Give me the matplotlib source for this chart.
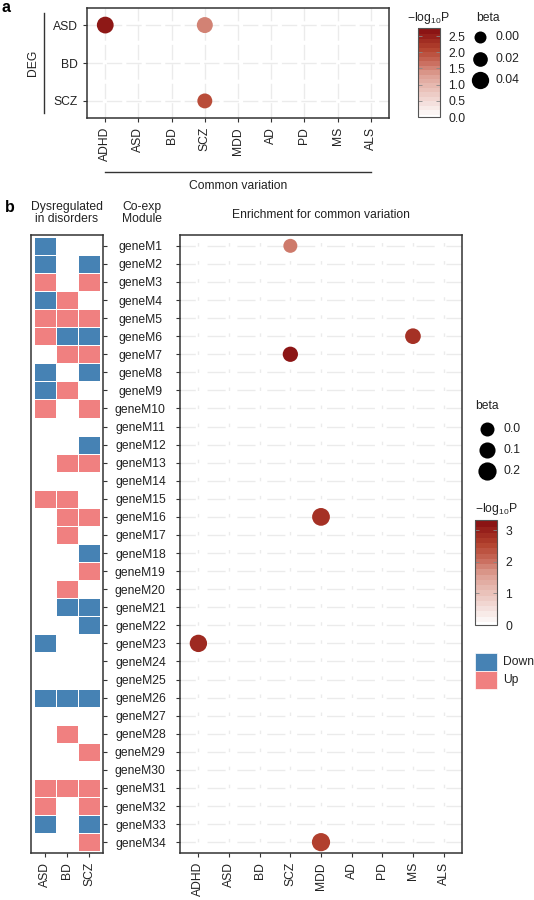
import numpy as np
import matplotlib
matplotlib.use('Agg')
import matplotlib.pyplot as plt
from matplotlib.colors import LinearSegmentedColormap, ListedColormap, Normalize, BoundaryNorm
from matplotlib.cm import ScalarMappable
from matplotlib.patches import Rectangle

plt.rcParams['font.family'] = ['Liberation Sans', 'DejaVu Sans']
plt.rcParams['mathtext.fontset'] = 'custom'
plt.rcParams['mathtext.rm'] = 'Liberation Sans'
plt.rcParams['mathtext.default'] = 'regular'

# ---------------- data ----------------
gwas = ['ADHD', 'ASD', 'BD', 'SCZ', 'MDD', 'AD', 'PD', 'MS', 'ALS']
deg = ['ASD', 'BD', 'SCZ']

# panel a : DEG sets vs common variation
a_deg = ['ASD', 'ASD', 'SCZ']
a_gwas = ['ADHD', 'SCZ', 'SCZ']
a_logp = [2.7, 1.6, 2.1]
a_beta = [0.036, 0.03, 0.022]
a_beta_breaks = [0.00, 0.02, 0.04]
a_beta_labels = ['0.00', '0.02', '0.04']
a_logp_ticks = [0.0, 0.5, 1.0, 1.5, 2.0, 2.5]
a_logp_max = 2.75

# panel b : co-expression modules
modules = ['geneM%d' % i for i in range(1, 35)]
# columns ASD, BD, SCZ ; -1 = Down, 1 = Up, 0 = not dysregulated
dysreg = [
    [-1, 0, 0],   # M1
    [-1, 0, -1],  # M2
    [1, 0, 1],    # M3
    [-1, 1, 0],   # M4
    [1, 1, 1],    # M5
    [1, -1, -1],  # M6
    [0, 1, 1],    # M7
    [-1, 0, -1],  # M8
    [-1, 1, 0],   # M9
    [1, 0, 1],    # M10
    [0, 0, 0],    # M11
    [0, 0, -1],   # M12
    [0, 1, 1],    # M13
    [0, 0, 0],    # M14
    [1, 1, 0],    # M15
    [0, 1, 1],    # M16
    [0, 1, 0],    # M17
    [0, 0, -1],   # M18
    [0, 0, 1],    # M19
    [0, 1, 0],    # M20
    [0, -1, -1],  # M21
    [0, 0, -1],   # M22
    [-1, 0, 0],   # M23
    [0, 0, 0],    # M24
    [0, 0, 0],    # M25
    [-1, -1, -1], # M26
    [0, 0, 0],    # M27
    [0, 1, 0],    # M28
    [0, 0, 1],    # M29
    [0, 0, 0],    # M30
    [1, 1, 1],    # M31
    [1, 0, 1],    # M32
    [-1, 0, -1],  # M33
    [0, 0, 1],    # M34
]
dir_labels = ['Down', 'Up']
dir_colors = ['#4682B4', '#F08080']

b_module = ['geneM1', 'geneM6', 'geneM7', 'geneM16', 'geneM23', 'geneM34']
b_gwas = ['SCZ', 'MS', 'SCZ', 'MDD', 'ADHD', 'MDD']
b_logp = [2.0, 2.9, 3.3, 2.9, 3.0, 2.7]
b_beta = [0.0, 0.08, 0.06, 0.18, 0.16, 0.2]
b_beta_breaks = [0.0, 0.1, 0.2]
b_beta_labels = ['0.0', '0.1', '0.2']
b_logp_ticks = [0, 1, 2, 3]
b_logp_max = 3.32

# ---------------- style ----------------
W, H = 534, 900
fig = plt.figure(figsize=(W / 100, H / 100), dpi=100)
FS = 8.7
txt = '#222222'
spine = '#333333'
gridc = '#EBEBEB'
cmap = LinearSegmentedColormap.from_list(
    'logp', [(0, '#FFFFFF'), (0.5, '#DD9E92'), (0.65, '#C86A5A'),
             (0.8, '#B4432F'), (1, '#8B1414')])


def box(x0, y0, x1, y1):
    # pixel box (top-left origin) -> figure fraction rect
    return [x0 / W, 1 - y1 / H, (x1 - x0) / W, (y1 - y0) / H]


def size_a(b):
    return ((12 + 133 * np.asarray(b)) * 0.72) ** 2


def size_b(b):
    return ((14 + 21 * np.asarray(b)) * 0.72) ** 2


# overlay for legends / free text in pixel coords
ov = fig.add_axes([0, 0, 1, 1])
ov.set_xlim(0, W)
ov.set_ylim(H, 0)
ov.axis('off')


def style_axes(ax):
    for s in ax.spines.values():
        s.set_color(spine)
        s.set_linewidth(1.1)
    ax.tick_params(colors=spine, labelcolor=txt, labelsize=FS, length=3, width=0.8)
    ax.set_facecolor('white')


def logp_bar(rect, norm, ticks, labels):
    cax = fig.add_axes(rect)
    cb = fig.colorbar(ScalarMappable(norm, cmap.resampled(20)), cax=cax)
    cb.outline.set_edgecolor('#555555')
    cb.solids.set_edgecolor('face')
    cb.set_ticks(ticks)
    cb.set_ticklabels(labels)
    cax.tick_params(direction='in', length=3, width=0.6, color='#888888',
                    labelsize=FS, labelcolor=txt, left=True, right=True, pad=6)
    return cax


# ---------------- panel a ----------------
ax_a = fig.add_axes(box(87, 8, 389, 118))
style_axes(ax_a)
ax_a.set_xlim(-0.55, len(gwas) - 0.45)
ax_a.set_ylim(len(deg) - 0.55, -0.45)
ax_a.set_xticks(range(len(gwas)))
ax_a.set_xticklabels(gwas, rotation=90)
ax_a.set_yticks(range(len(deg)))
ax_a.set_yticklabels(deg)
ax_a.grid(True, color=gridc, lw=1, ls=(0, (11, 3)))
ax_a.set_axisbelow(True)
norm_a = Normalize(0, a_logp_max)
ax_a.scatter([gwas.index(g) for g in a_gwas], [deg.index(d) for d in a_deg],
             s=size_a(a_beta), c=a_logp, cmap=cmap, norm=norm_a,
             linewidths=0, zorder=3)
# brackets
ax_a.plot([-0.143, -0.143], [-0.32, len(deg) - 1 + 0.32], color=spine, lw=1,
          transform=ax_a.get_yaxis_transform(), clip_on=False)
ax_a.text(-0.18, 1, 'DEG', rotation=90, ha='center', va='center', fontsize=FS,
          color=txt, transform=ax_a.get_yaxis_transform())
ax_a.plot([0, len(gwas) - 1], [-0.49, -0.49], color=spine, lw=1,
          transform=ax_a.get_xaxis_transform(), clip_on=False)
ax_a.text((len(gwas) - 1) / 2, -0.615, 'Common variation', ha='center', va='center',
          fontsize=FS, color=txt, transform=ax_a.get_xaxis_transform())

# colorbar a
logp_bar(box(418, 28, 440, 117), norm_a, a_logp_ticks, ['%.1f' % t for t in a_logp_ticks])
ov.text(407, 18, '\u2212log$_{10}$P', fontsize=FS, color=txt, va='center', ha='left')

# beta legend a
ov.text(476, 18, 'beta', fontsize=FS, color=txt, va='center', ha='left')
for i, (b, lab) in enumerate(zip(a_beta_breaks, a_beta_labels)):
    yy = 37 + i * 21.5
    ov.scatter([480], [yy], s=size_a(b), color='black', linewidths=0)
    ov.text(496, yy, lab, fontsize=FS, color=txt, va='center', ha='left')

ov.text(2, 7, 'a', fontsize=11.5, fontweight='bold', va='center', ha='left')

# ---------------- panel b ----------------
ax_h = fig.add_axes(box(31, 235, 103, 853))
style_axes(ax_h)
mat = np.ma.masked_equal(np.array(dysreg, dtype=float), 0)
ax_h.pcolormesh(np.arange(len(deg) + 1) - 0.5, np.arange(len(modules) + 1) - 0.5, mat,
                cmap=ListedColormap(dir_colors), norm=BoundaryNorm([-2, 0, 2], 2),
                edgecolors='white', linewidth=0.5)
ax_h.set_xlim(-0.62, len(deg) - 0.38)
ax_h.set_ylim(len(modules) - 0.4, -0.6)
ax_h.set_xticks(range(len(deg)))
ax_h.set_xticklabels(deg, rotation=90)
ax_h.set_yticks(range(len(modules)))
ax_h.tick_params(axis='y', left=False, right=True, labelleft=False)

ax_b = fig.add_axes(box(180, 235, 462, 853))
style_axes(ax_b)
ax_b.set_xlim(-0.6, len(gwas) - 0.4)
ax_b.set_ylim(len(modules) - 0.4, -0.6)
ax_b.set_xticks(range(len(gwas)))
ax_b.set_xticklabels(gwas, rotation=90)
ax_b.set_yticks(range(len(modules)))
ax_b.set_yticklabels(modules, ha='center')
ax_b.tick_params(axis='y', pad=25.5)
ax_b.yaxis.grid(True, color=gridc, lw=1, ls=(2, (13, 8.5)))
ax_b.xaxis.grid(True, color=gridc, lw=1, ls=(5, (2.5, 10.5)))
ax_b.set_axisbelow(True)
norm_b = Normalize(0, b_logp_max)
ax_b.scatter([gwas.index(g) for g in b_gwas], [modules.index(m) for m in b_module],
             s=size_b(b_beta), c=b_logp, cmap=cmap, norm=norm_b,
             linewidths=0, zorder=3)

ov.text(5, 207, 'b', fontsize=11.5, fontweight='bold', va='center', ha='left')
ov.text(67, 213, 'Dysregulated\nin disorders', fontsize=FS, color=txt, ha='center',
        va='center', linespacing=1.05)
ov.text(122, 213, 'Co-exp\nModule', fontsize=FS, color=txt, ha='left', va='center',
        linespacing=1.05)
ov.text(321, 215, 'Enrichment for common variation', fontsize=FS, color=txt,
        ha='center', va='center')

# beta legend b
ov.text(475, 406, 'beta', fontsize=FS, color=txt, va='center', ha='left')
for i, (b, lab) in enumerate(zip(b_beta_breaks, b_beta_labels)):
    yy = 429 + i * 21
    ov.scatter([487], [yy], s=size_b(b), color='black', linewidths=0)
    ov.text(503, yy, lab, fontsize=FS, color=txt, va='center', ha='left')

# colorbar b
logp_bar(box(475, 520, 497, 625), norm_b, b_logp_ticks, [str(t) for t in b_logp_ticks])
ov.text(475, 509, '\u2212log$_{10}$P', fontsize=FS, color=txt, va='center', ha='left')

# Down / Up legend
for i, (lab, col) in enumerate(zip(dir_labels, dir_colors)):
    y0 = 653 + i * 18
    ov.add_patch(Rectangle((475, y0), 22, 18, facecolor=col, edgecolor='white', lw=0.5))
    ov.text(503, y0 + 9, lab, fontsize=FS, color=txt, va='center', ha='left')

fig.savefig('out.png', dpi=100)
